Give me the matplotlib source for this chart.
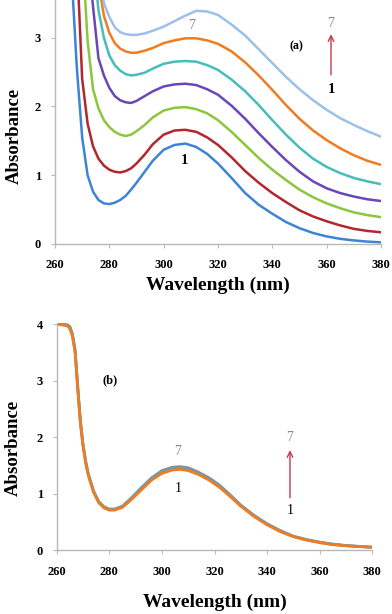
import numpy as np
import matplotlib
matplotlib.use("Agg")
from matplotlib import pyplot as plt

plt.rcParams['font.family'] = ['Liberation Serif', 'DejaVu Serif']
plt.rcParams['font.weight'] = 'bold'

# ---- panel (a): spectra 1..7
wl_a = [264, 266, 268, 270, 272, 274, 276, 278, 280, 282, 284, 286, 288, 290,
        293, 296, 300, 304, 308, 312, 316, 320, 325, 330, 335, 340, 345, 350,
        355, 360, 365, 370, 375, 380]

a1 = [5.0, 4.0, 2.58, 1.55, 1.0, 0.76, 0.64, 0.59, 0.58, 0.60, 0.64, 0.70, 0.79, 0.89,
      1.05, 1.21, 1.37, 1.44, 1.46, 1.41, 1.31, 1.17, 0.96, 0.74, 0.57, 0.44, 0.32, 0.23,
      0.16, 0.11, 0.075, 0.052, 0.035, 0.024]
a2 = [6.0, 5.0, 4.2, 2.40, 1.75, 1.42, 1.24, 1.14, 1.08, 1.05, 1.04, 1.06, 1.10, 1.17,
      1.30, 1.45, 1.59, 1.65, 1.66, 1.63, 1.55, 1.44, 1.26, 1.06, 0.89, 0.74, 0.61, 0.49,
      0.40, 0.33, 0.27, 0.22, 0.19, 0.17]
a3 = [7.0, 6.0, 5.0, 4.3, 2.95, 2.25, 1.97, 1.80, 1.70, 1.63, 1.59, 1.57, 1.59, 1.64,
      1.73, 1.84, 1.94, 1.98, 1.99, 1.96, 1.90, 1.80, 1.63, 1.44, 1.25, 1.08, 0.93, 0.79,
      0.68, 0.59, 0.52, 0.46, 0.42, 0.39]
a4 = [8.0, 7.0, 6.0, 5.0, 4.3, 3.45, 2.70, 2.45, 2.27, 2.15, 2.09, 2.06, 2.05, 2.08,
      2.15, 2.22, 2.29, 2.32, 2.33, 2.31, 2.25, 2.17, 2.01, 1.82, 1.61, 1.41, 1.22, 1.05,
      0.91, 0.81, 0.74, 0.69, 0.65, 0.625]
a5 = [9.0, 8.0, 7.0, 6.0, 5.0, 4.2, 3.40, 3.00, 2.74, 2.60, 2.52, 2.47, 2.45, 2.46,
      2.49, 2.55, 2.62, 2.65, 2.66, 2.65, 2.60, 2.53, 2.39, 2.22, 2.02, 1.80, 1.59, 1.40,
      1.24, 1.12, 1.03, 0.96, 0.91, 0.87]
a6 = [10.0, 9.0, 8.0, 7.0, 6.0, 5.0, 3.80, 3.32, 3.07, 2.92, 2.84, 2.80, 2.78, 2.78,
      2.81, 2.85, 2.92, 2.96, 2.99, 2.99, 2.96, 2.91, 2.80, 2.64, 2.45, 2.24, 2.02, 1.82,
      1.65, 1.51, 1.39, 1.29, 1.21, 1.15]
a7 = [11.0, 10.0, 9.0, 8.0, 7.0, 6.0, 4.0, 3.50, 3.30, 3.15, 3.08, 3.05, 3.04, 3.04,
      3.06, 3.10, 3.16, 3.24, 3.32, 3.39, 3.38, 3.33, 3.19, 3.03, 2.83, 2.63, 2.43, 2.25,
      2.09, 1.95, 1.83, 1.73, 1.64, 1.56]
colors_a = ['#3E84D6', '#B3262E', '#8CC63E', '#6A47B8', '#45BDBA', '#EF7C22', '#9CC0EA']

# ---- panel (b)
wl_b = [260, 262, 264, 265, 266, 267, 268, 269, 270, 271, 272, 274, 276, 278, 280,
        282, 285, 288, 292, 296, 300, 304, 307, 310, 314, 318, 322, 326, 330, 335,
        340, 345, 350, 355, 360, 365, 370, 375, 380]
b1 = [4.0, 3.99, 3.97, 3.92, 3.78, 3.50, 2.85, 2.25, 1.85, 1.55, 1.33, 1.03, 0.84, 0.75, 0.71,
      0.71, 0.76, 0.88, 1.06, 1.24, 1.36, 1.42, 1.43, 1.41, 1.34, 1.24, 1.11, 0.95, 0.78, 0.60,
      0.45, 0.33, 0.24, 0.18, 0.135, 0.10, 0.08, 0.065, 0.053]
b4 = [4.0, 3.99, 3.98, 3.94, 3.80, 3.52, 2.87, 2.27, 1.86, 1.56, 1.34, 1.04, 0.85, 0.76, 0.72,
      0.72, 0.77, 0.90, 1.08, 1.26, 1.38, 1.44, 1.45, 1.43, 1.36, 1.26, 1.13, 0.96, 0.79, 0.61,
      0.46, 0.34, 0.245, 0.185, 0.14, 0.105, 0.082, 0.067, 0.054]
b7 = [4.0, 4.0, 3.99, 3.96, 3.83, 3.55, 2.90, 2.30, 1.88, 1.58, 1.36, 1.05, 0.86, 0.77, 0.73,
      0.73, 0.78, 0.91, 1.10, 1.28, 1.41, 1.47, 1.48, 1.46, 1.38, 1.28, 1.15, 0.98, 0.80, 0.62,
      0.47, 0.35, 0.25, 0.19, 0.145, 0.11, 0.085, 0.07, 0.055]
colors_b = ['#8A8FA0', '#4EA8B8', '#EF7C22']

grey = '#B8B8B8'


def style(ax, ylim, yticks, labelpad_x):
    ax.set_xlim(260, 380)
    ax.set_ylim(*ylim)
    ax.set_xticks(range(260, 381, 20))
    ax.set_yticks(yticks)
    for s in ['top', 'right']:
        ax.spines[s].set_visible(False)
    for s in ['left', 'bottom']:
        ax.spines[s].set_color(grey)
        ax.spines[s].set_linewidth(1.0)
    ax.tick_params(colors=grey, labelcolor='black', length=3, width=0.8, labelsize=9)
    ax.tick_params(axis='x', pad=labelpad_x)
    ax.tick_params(axis='y', pad=7)
    ax.set_xlabel('Wavelength (nm)', fontsize=14, fontweight='bold')
    ax.set_ylabel('Absorbance', fontsize=13.5, fontweight='bold')


fig = plt.figure(figsize=(3.92, 6.14), dpi=100)

ax1 = fig.add_axes([55 / 392, 1 - 244 / 614, 326 / 392, 244 / 614])
for y, c in zip([a1, a2, a3, a4, a5, a6, a7], colors_a):
    ax1.plot(wl_a, y, color=c, lw=1.8, solid_capstyle='round', solid_joinstyle='round')
style(ax1, (0, 3.547), [0, 1, 2, 3], 7.5)
ax1.xaxis.set_label_coords(0.5, -0.135)
ax1.yaxis.set_label_coords(-0.10, 0.443)
ax1.text(310.4, 3.18, '7', color='#8A8A8A', fontsize=10, fontweight='normal', ha='center', va='center')
ax1.text(307.5, 1.21, '1', color='black', fontsize=10.5, ha='center', va='center')
ax1.text(348.7, 2.88, '(a)', color='black', fontsize=8.5, ha='center', va='center')
ax1.annotate('', xy=(361.6, 3.09), xytext=(361.6, 2.42),
             arrowprops=dict(arrowstyle='->', color='#C8374A', lw=1.0))
ax1.text(361.6, 3.21, '7', color='#8A8A8A', fontsize=10, fontweight='normal', ha='center', va='center')
ax1.text(361.6, 2.24, '1', color='black', fontsize=10.5, ha='center', va='center')

ax2 = fig.add_axes([56.7 / 392, 1 - 550.3 / 614, 315.6 / 392, 227.3 / 614])
for y, c in zip([b7, b4, b1], colors_b):
    ax2.plot(wl_b, y, color=c, lw=2.0, solid_capstyle='round', solid_joinstyle='round')
style(ax2, (0, 4.02), [0, 1, 2, 3, 4], 8)
ax2.xaxis.set_label_coords(0.5, -0.19)
ax2.yaxis.set_label_coords(-0.11, 0.45)
ax2.text(280.3, 3.0, '(b)', color='black', fontsize=9, ha='center', va='center')
ax2.text(306.1, 1.74, '7', color='#8A8A8A', fontsize=10, fontweight='normal', ha='center', va='center')
ax2.text(306.1, 1.10, '1', color='black', fontsize=10, fontweight='normal', ha='center', va='center')
ax2.annotate('', xy=(348.7, 1.82), xytext=(348.7, 0.88),
             arrowprops=dict(arrowstyle='->', color='#C8374A', lw=1.0))
ax2.text(348.7, 2.0, '7', color='#8A8A8A', fontsize=10, fontweight='normal', ha='center', va='center')
ax2.text(348.7, 0.70, '1', color='black', fontsize=10, fontweight='normal', ha='center', va='center')

fig.savefig('out.png', dpi=100)
